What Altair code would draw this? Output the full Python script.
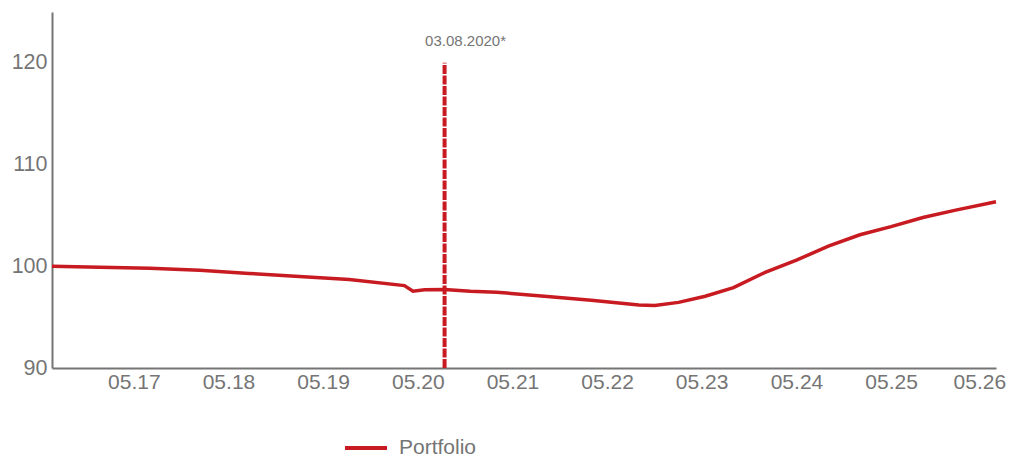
import altair as alt
import pandas as pd

# ---- data ----
dates = ["2016-06-19", "2016-12-20", "2017-07-01", "2018-01-10", "2018-07-20",
         "2019-01-30", "2019-08-10", "2020-03-10", "2020-04-12", "2020-05-27",
         "2020-08-11", "2020-11-20", "2021-03-01", "2021-09-01", "2022-03-01",
         "2022-09-01", "2022-11-01", "2023-02-01", "2023-05-15", "2023-09-01",
         "2024-01-01", "2024-05-01", "2024-09-01", "2025-01-01", "2025-05-01",
         "2025-09-01", "2026-01-01", "2026-06-10"]
values = [100.0, 99.9, 99.8, 99.6, 99.3,
          99.0, 98.7, 98.1, 97.55, 97.7,
          97.72, 97.55, 97.45, 97.05, 96.65,
          96.2, 96.15, 96.45, 97.05, 97.9,
          99.4, 100.6, 101.98, 103.1, 103.9,
          104.8, 105.5, 106.35]
series_name = "Portfolio"
tick_years = [2017, 2018, 2019, 2020, 2021, 2022, 2023, 2024, 2025, 2026]
y_ticks = [90, 100, 110, 120]
marker_date = "2020-08-12"
marker_label = "03.08.2020*"
marker_top = 120
marker_bottom = 90
marker_label_y = 122.1

RED = "#c81b21"
GRAY = "#757575"
FONT = "Liberation Sans"

df = pd.DataFrame({"date": dates, "value": values, "series": series_name})
mk = pd.DataFrame({"date": [marker_date], "top": [marker_top], "bottom": [marker_bottom],
                   "ly": [marker_label_y], "label": [marker_label]})

x_scale = alt.Scale(type="utc",
                    domain=[alt.DateTime(year=2016, month=6, date=19, utc=True),
                            alt.DateTime(year=2026, month=6, date=10, utc=True)])
y_scale = alt.Scale(domain=[90, 125], nice=False, zero=False)

x_axis = alt.Axis(title=None, values=[alt.DateTime(year=y, month=5, date=1, utc=True) for y in tick_years],
                  format="%m.%y", grid=False, ticks=False, domainColor=GRAY, domainWidth=2,
                  labelFont=FONT, labelFontSize=21, labelColor=GRAY, labelPadding=3,
                  labelFlush=15, labelFlushOffset=20, labelOverlap=False)
y_axis = alt.Axis(title=None, values=y_ticks, grid=False, ticks=False, domainColor=GRAY,
                  domainWidth=2, labelFont=FONT, labelFontSize=21.5, labelColor=GRAY,
                  labelPadding=5)

line = alt.Chart(df).mark_line(strokeWidth=3.5).encode(
    x=alt.X("date:T", scale=x_scale, axis=x_axis),
    y=alt.Y("value:Q", scale=y_scale, axis=y_axis),
    color=alt.Color("series:N", scale=alt.Scale(domain=[series_name], range=[RED]),
                    legend=alt.Legend(title=None, orient="none", legendX=291, legendY=413,
                                      symbolType="stroke", symbolSize=1764,
                                      symbolStrokeWidth=4, labelFont=FONT,
                                      labelFontSize=21, labelColor=GRAY, labelOffset=10)),
)

rule = alt.Chart(mk).mark_rule(color=RED, strokeWidth=4, strokeDash=[9, 1.5]).encode(
    x=alt.X("date:T", scale=x_scale),
    y=alt.Y("bottom:Q", scale=y_scale),
    y2="top:Q",
)

label = alt.Chart(mk).mark_text(font=FONT, fontSize=15, color=GRAY, align="center",
                                baseline="middle", dx=21).encode(
    x=alt.X("date:T", scale=x_scale),
    y=alt.Y("ly:Q", scale=y_scale),
    text="label:N",
)

chart = alt.layer(line, rule, label).properties(
    width=944, height=356,
    autosize=alt.AutoSizeParams(type="none"),
    padding={"left": 44, "top": 4, "right": 11, "bottom": 91},
).configure_view(stroke=None)

chart.save("out.html", embed_options={"renderer": "svg", "actions": False})
